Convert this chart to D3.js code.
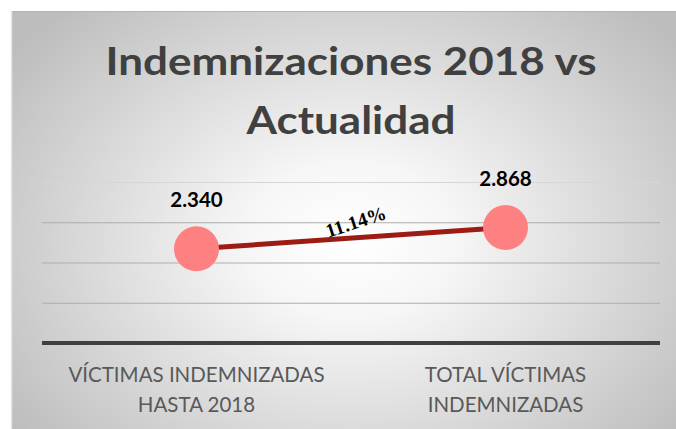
<!DOCTYPE html>
<html>
<head>
<meta charset="utf-8">
<script src="https://cdn.jsdelivr.net/npm/d3@7"></script>
<style>
  html, body { margin: 0; padding: 0; background: #ffffff; }
  svg { display: block; }
</style>
</head>
<body>
<script>
// ---- data ----
const categories = [["VÍCTIMAS INDEMNIZADAS", "HASTA 2018"], ["TOTAL VÍCTIMAS", "INDEMNIZADAS"]];
const values = [2340, 2868];
const yTicks = [1000, 2000, 3000, 4000];
const yDomain = [0, 4000];
const titleLines = ["Indemnizaciones 2018 vs", "Actualidad"];
const changeLabel = "11.14%";

const W = 676, H = 429;
const svg = d3.select("body").append("svg").attr("width", W).attr("height", H);

// background
const defs = svg.append("defs");
const grad = defs.append("radialGradient").attr("id", "bg")
  .attr("gradientUnits", "userSpaceOnUse")
  .attr("cx", 350).attr("cy", 240).attr("r", 420)
  .attr("gradientTransform", "translate(350,240) scale(1,0.75) translate(-350,-240)");
grad.append("stop").attr("offset", "0%").attr("stop-color", "#ffffff");
grad.append("stop").attr("offset", "25%").attr("stop-color", "#f6f6f6");
grad.append("stop").attr("offset", "100%").attr("stop-color", "#bdbdbd");

svg.append("rect").attr("x", 11).attr("y", 11).attr("width", W - 11).attr("height", H - 11)
  .attr("fill", "url(#bg)");
svg.append("line").attr("x1", 11).attr("x2", W).attr("y1", 11.5).attr("y2", 11.5)
  .attr("stroke", "#b5b5b5").attr("stroke-width", 1);
svg.append("line").attr("x1", 11.5).attr("x2", 11.5).attr("y1", 11).attr("y2", H)
  .attr("stroke", "#e6e6e6").attr("stroke-width", 1.5);

// scales
const x = d3.scaleBand().domain(d3.range(categories.length)).range([42, 660]);
const cx = i => x(i) + x.bandwidth() / 2;
const y = d3.scaleLinear().domain(yDomain).range([343, 182]);

// gridlines
const grid = svg.append("g").attr("transform", "translate(42,0)")
  .call(d3.axisLeft(y).tickValues(yTicks).tickSize(-618).tickFormat(""));
grid.select(".domain").remove();
grid.selectAll(".tick line").attr("stroke", d => d === 4000 ? "#d6d6d6" : "#adadad").attr("stroke-width", 1.2);

// x axis line
svg.append("line").attr("x1", 42).attr("x2", 660).attr("y1", y(0)).attr("y2", y(0))
  .attr("stroke", "#404040").attr("stroke-width", 4);

// title
const title = svg.append("g");
titleLines.forEach((t, i) => {
  title.append("text")
    .attr("x", 351).attr("y", 75 + i * 59)
    .attr("text-anchor", "middle")
    .attr("font-family", "Lato, 'Open Sans', sans-serif")
    .attr("font-weight", 700)
    .attr("font-size", 39)
    .attr("fill", "#404040")
    .attr("textLength", i === 0 ? 491 : 209)
    .attr("lengthAdjust", "spacingAndGlyphs")
    .text(t);
});

// line
const line = d3.line().x((d, i) => cx(i)).y(d => y(d));
svg.append("path").datum(values).attr("d", line)
  .attr("fill", "none").attr("stroke", "#9c1c14").attr("stroke-width", 5);

// markers
svg.selectAll("circle.pt").data(values).join("circle").attr("class", "pt")
  .attr("cx", (d, i) => cx(i)).attr("cy", d => y(d)).attr("r", 22.5)
  .attr("fill", "#ff8080");

// data labels
const loc = d3.formatLocale({ decimal: ",", thousands: ".", grouping: [3], currency: ["", ""] });
const fmt = loc.format(",");
svg.selectAll("text.dl").data(values).join("text").attr("class", "dl")
  .attr("x", (d, i) => cx(i)).attr("y", d => y(d) - 42)
  .attr("text-anchor", "middle")
  .attr("font-family", "Lato, sans-serif").attr("font-weight", 700).attr("font-size", 20.5)
  .attr("fill", "#000000")
  .text(d => fmt(d));

// change label
const mx = (cx(0) + cx(1)) / 2 + 7, my = (y(values[0]) + y(values[1])) / 2 - 10;
svg.append("text")
  .attr("transform", `translate(${mx},${my}) rotate(-18)`)
  .attr("text-anchor", "middle")
  .attr("font-family", "'Liberation Serif', 'Times New Roman', serif")
  .attr("font-weight", 700).attr("font-size", 19.5)
  .attr("fill", "#000000")
  .text(changeLabel);

// category labels
categories.forEach((lines, i) => {
  const t = svg.append("text").attr("text-anchor", "middle")
    .attr("font-family", "Lato, 'Open Sans', sans-serif").attr("font-size", 20.5)
    .attr("fill", "#595959");
  lines.forEach((l, j) => {
    t.append("tspan").attr("x", cx(i)).attr("y", 382 + j * 30).text(l);
  });
});
</script>
</body>
</html>
